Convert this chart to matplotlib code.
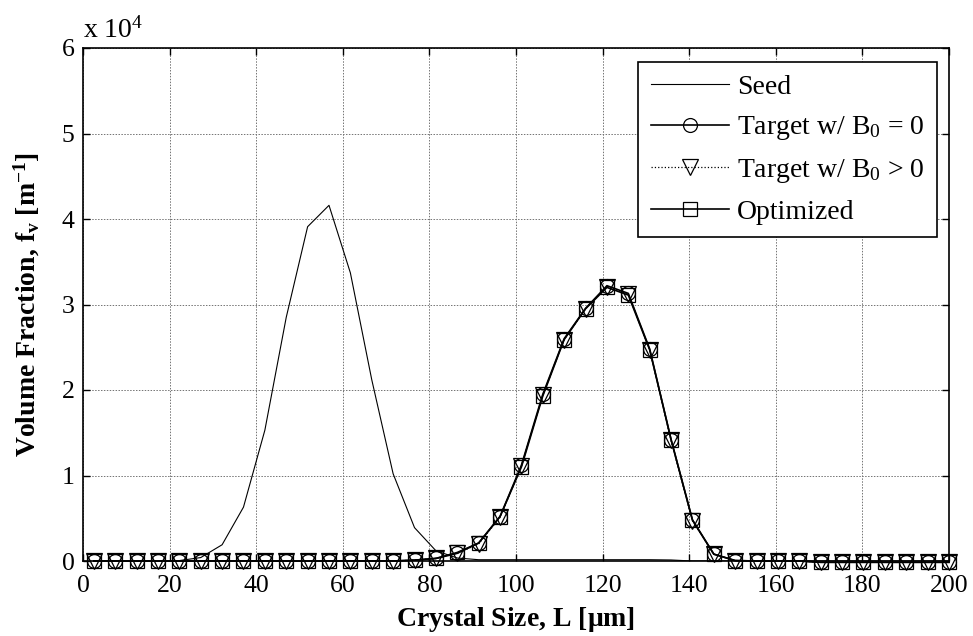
import numpy as np
import matplotlib
matplotlib.use("Agg")
import matplotlib.pyplot as plt

plt.rcParams['font.family'] = ['Liberation Serif', 'DejaVu Serif']
plt.rcParams['mathtext.fontset'] = 'custom'
plt.rcParams['mathtext.rm'] = 'Liberation Serif'
plt.rcParams['mathtext.it'] = 'Liberation Serif:italic'
plt.rcParams['mathtext.bf'] = 'Liberation Serif:bold'

# Crystal size grid [um]
L = [2.5, 7.4375, 12.375, 17.3125, 22.25, 27.1875, 32.125, 37.0625, 42.0, 46.9375,
     51.875, 56.8125, 61.75, 66.6875, 71.625, 76.5625, 81.5, 86.4375, 91.375, 96.3125,
     101.25, 106.1875, 111.125, 116.0625, 121.0, 125.9375, 130.875, 135.8125, 140.75, 145.6875,
     150.625, 155.5625, 160.5, 165.4375, 170.375, 175.3125, 180.25, 185.1875, 190.125, 195.0625,
     200.0]

# volume fractions, in units of 1e4 m^-1
seed = [0, 0, 0, 0, 0.005, 0.04, 0.19, 0.63, 1.53, 2.85,
        3.91, 4.16, 3.37, 2.12, 1.02, 0.39, 0.12, 0.035, 0.015, 0.015,
        0.015, 0.015, 0.015, 0.015, 0.015, 0.015, 0.015, 0.012, 0, 0,
        0, 0, 0, 0, 0, 0, 0, 0, 0, 0,
        0]
target_b0 = [0, 0, 0, 0, 0, 0, 0, 0, 0, 0,
             0, 0, 0, 0, 0, 0.01, 0.03, 0.09, 0.21, 0.52,
             1.12, 1.95, 2.60, 2.955, 3.22, 3.13, 2.48, 1.42, 0.48, 0.08,
             0.005, 0, 0, 0, -0.015, -0.015, -0.015, -0.015, -0.015, -0.015,
             -0.015]
target_b0pos = [0, 0, 0, 0, 0, 0, 0, 0, 0, 0,
                0, 0, 0, 0, 0, 0.01, 0.03, 0.09, 0.20, 0.51,
                1.11, 1.94, 2.59, 2.95, 3.21, 3.12, 2.47, 1.41, 0.47, 0.08,
                0.005, 0, 0, 0, -0.015, -0.015, -0.015, -0.015, -0.015, -0.015,
                -0.015]
optimized = [0, 0, 0, 0, 0, 0, 0, 0, 0, 0,
             0, 0, 0, 0, 0, 0.01, 0.03, 0.10, 0.21, 0.52,
             1.10, 1.93, 2.59, 2.95, 3.20, 3.11, 2.47, 1.42, 0.48, 0.08,
             0.005, 0, 0, 0, -0.015, -0.015, -0.015, -0.015, -0.015, -0.015,
             -0.015]

fig = plt.figure(figsize=(9.73, 6.36), dpi=100)
ax = fig.add_axes([83/973, 75/636, 866/973, 513/636])

ax.plot(L, seed, color='k', lw=0.8, label='Seed')
ax.plot(L, target_b0, color='k', lw=1.2, marker='o', ms=10, mfc='none', mew=0.9,
        clip_on=False, label='Target w/ B$_0$ = 0')
ax.plot(L, target_b0pos, color='k', lw=0.9, ls=':', marker='v', ms=11, mfc='none', mew=0.9,
        clip_on=False, label='Target w/ B$_0$ > 0')
ax.plot(L, optimized, color='k', lw=1.2, marker='s', ms=10, mfc='none', mew=0.9,
        clip_on=False, label='Optimized')

ax.set_xlim(0, 200)
ax.set_ylim(0, 6)
ax.set_xticks(np.arange(0, 201, 20))
ax.set_yticks(np.arange(0, 7, 1))
ax.grid(True, color='0.45', ls=(0, (1.5, 1.5)), lw=0.7)
ax.tick_params(direction='in', length=5, width=1, top=True, right=True,
               labelsize=18.5, pad=6)
ax.tick_params(axis='x', pad=10)
for s in ax.spines.values():
    s.set_linewidth(1.2)

ax.set_xlabel(r'Crystal Size, L [$\mathbf{\mu}$m]', fontsize=20, fontweight='bold', labelpad=6)
ax.set_ylabel(r'Volume Fraction, f$_\mathbf{v}$ [m$^\mathbf{-1}$]', fontsize=20,
              fontweight='bold', labelpad=14)
ax.text(0, 1.021, r'x 10$^4$', transform=ax.transAxes, fontsize=20, ha='left', va='baseline')

leg = ax.legend(loc='upper right', bbox_to_anchor=(0.986, 0.973), borderaxespad=0,
                fontsize=20, handlelength=2.8, labelspacing=0.52, borderpad=0.45,
                handletextpad=0.3, fancybox=False, framealpha=1, edgecolor='k')
leg.get_frame().set_linewidth(1.2)

fig.savefig('out.png', dpi=100)
